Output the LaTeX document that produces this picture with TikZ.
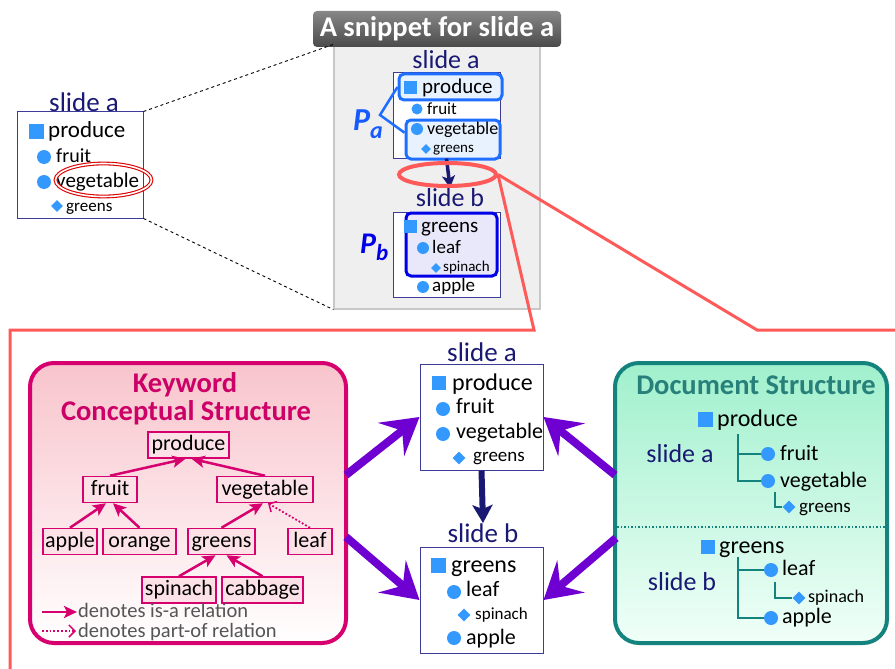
\documentclass[tikz,border=0pt]{standalone}
\usepackage{fontspec}
\setmainfont{Carlito}
\usetikzlibrary{arrows.meta,shapes.geometric}
\definecolor{navytxt}{RGB}{25,25,115}
\definecolor{navyline}{RGB}{60,60,150}
\definecolor{bul}{RGB}{51,153,255}
\definecolor{crim}{RGB}{214,0,110}
\definecolor{crimtxt}{RGB}{204,0,102}
\definecolor{purp}{RGB}{110,0,210}
\definecolor{teal2}{RGB}{20,130,125}
\definecolor{tealtxt}{RGB}{40,128,122}
\definecolor{framered}{RGB}{255,90,90}
\definecolor{ringred}{RGB}{220,0,0}
\definecolor{hlblue}{RGB}{30,110,255}
\definecolor{hlfill}{RGB}{232,242,255}
\definecolor{hlbblue}{RGB}{0,0,230}
\definecolor{hlbfill}{RGB}{232,232,250}
\definecolor{pblue}{RGB}{20,90,255}
\definecolor{pbblue}{RGB}{0,0,230}
\definecolor{panelgray}{RGB}{239,239,239}
\definecolor{panelline}{RGB}{200,200,200}
\definecolor{kwpink}{RGB}{248,196,204}
\definecolor{cpink}{RGB}{252,226,231}
\definecolor{mint}{RGB}{160,240,205}
\definecolor{mintlow}{RGB}{240,255,248}
\definecolor{leggray}{RGB}{85,85,85}
\newcommand\fs[1]{\fontsize{#1}{#1}\selectfont}
\begin{document}
\begin{tikzpicture}[x=1pt,y=-1pt,
 lbl/.style={anchor=base, inner sep=0pt, text=navytxt, font=\fs{27}},
 itm/.style={anchor=base west, inner sep=0pt, text=black},
 sqb/.style={rectangle, fill=bul, minimum size=#1, inner sep=0pt},
 cib/.style={circle, fill=bul, minimum size=#1, inner sep=0pt},
 dib/.style={diamond, fill=bul, minimum size=#1, inner sep=0pt},
 slidebox/.style={draw=navyline, line width=1pt, fill=white, inner sep=0pt},
 hla/.style={draw=hlblue, line width=3pt, fill=hlfill, rounded corners=5pt, inner sep=0pt},
 hlb/.style={draw=hlbblue, line width=3pt, fill=hlbfill, rounded corners=5pt, inner sep=0pt},
 pline/.style={draw=hlblue, line width=2.5pt},
 frame/.style={draw=framered, line width=3pt},
 titlebox/.style={rounded corners=4pt, top color={rgb,255:red,135;green,135;blue,135}, bottom color={rgb,255:red,75;green,75;blue,75}, text=white, font=\fs{28.5}\bfseries, inner sep=0pt},
 kwpanel/.style={draw=crim, line width=4pt, rounded corners=24pt, top color=kwpink, bottom color=white},
 kwtitle/.style={anchor=base, inner sep=0pt, text=crimtxt, font=\fs{28.5}\bfseries},
 cbox/.style={draw=crim, line width=1.5pt, fill=cpink, minimum height=26pt, inner sep=0pt, text height=15pt, text depth=4pt, font=\fs{22}},
 isa/.style={draw=crim, line width=2.5pt, -{Stealth[length=13pt,width=12pt,inset=3pt]}},
 partof/.style={draw=crim, line width=1.8pt, dotted, -{Straight Barb[length=6pt,width=12pt,line width=1.5pt]}},
 legtxt/.style={anchor=base west, inner sep=0pt, text=leggray, font=\fs{20.5}},
 narr/.style={draw=navytxt, line width=6pt, -{Stealth[length=18pt,width=20pt,inset=4pt]}},
 narrs/.style={draw=navytxt, line width=3.5pt, -{Stealth[length=12pt,width=13pt,inset=3pt]}},
 parr/.style={draw=purp, line width=8pt, -{Stealth[length=36pt,width=42pt,inset=14pt]}},
 docpanel/.style={draw=teal2, line width=4pt, rounded corners=24pt, top color=mint, bottom color=mintlow},
 dstitle/.style={anchor=base, inner sep=0pt, text=tealtxt, font=\fs{28.5}\bfseries},
 tree/.style={draw=teal2, line width=1.3pt},
 sep/.style={draw=teal2, line width=1.5pt, dotted}
]
\useasboundingbox (0,0) rectangle (895,669);

% ---------- left small slide ----------
\node[lbl] (llbl) at (84,111) {slide a};
\node[slidebox, minimum width=126pt, minimum height=106pt] (lbox) at (80,165) {};
\node[sqb=15pt] (lsq) at (36,131) {};
\node[itm, font=\fs{23}] (lt1) at (48,137) {produce};
\node[cib=14pt] (lc1) at (44,157) {};
\node[itm, font=\fs{20}] (lt2) at (56,162) {fruit};
\node[cib=14pt] (lc2) at (44,182) {};
\node[itm, font=\fs{21}] (lt3) at (56,187) {vegetable};
\node[dib=12pt] (ld1) at (57,206) {};
\node[itm, font=\fs{17}] (lt4) at (66,211) {greens};
\node[ellipse, draw=ringred, double, double distance=1.6pt, line width=1.1pt, minimum width=96pt, minimum height=33pt] (ring) at (103.5,180) {};

% ---------- snippet panel ----------
\node[fill=panelgray, draw=panelline, line width=1.2pt, minimum width=206pt, minimum height=264pt] (pnl) at (437,177) {};
\node[titlebox, minimum width=248pt, minimum height=36pt] (ttl) at (437,29) {A snippet for slide a};
\draw[dashed, line width=0.9pt] (lbox.north east) -- (pnl.north west);
\draw[dashed, line width=0.9pt] (lbox.south east) -- (pnl.south west);

\node[lbl, font=\fs{26}] (pal) at (446,69) {slide a};
\node[slidebox, minimum width=107pt, minimum height=85pt] (pa) at (446.5,115.5) {};
\node[hla, minimum width=103pt, minimum height=26pt] (pah1) at (450.5,87) {};
\node[hla, minimum width=94pt, minimum height=39pt] (pah2) at (453,139.5) {};
\node[sqb=13pt] (pasq) at (410.5,87.5) {};
\node[itm, font=\fs{21}] (pat1) at (422,93) {produce};
\node[cib=11pt] (pac1) at (417,109) {};
\node[itm, font=\fs{17}] (pat2) at (427,114) {fruit};
\node[cib=12pt] (pac2) at (417,129) {};
\node[itm, font=\fs{18}] (pat3) at (427,135) {vegetable};
\node[dib=10pt] (pad1) at (426,149) {};
\node[itm, font=\fs{15}] (pat4) at (433,153) {greens};
\node[anchor=base west, inner sep=0pt, text=pblue, font=\fs{32}\bfseries\itshape] (Pa) at (353,130) {P\raisebox{-9pt}{\fs{24}a}};
\coordinate (apex) at (380,115);
\draw[pline] (pah1.west) -- (apex) -- (pah2.172);

\node[lbl, font=\fs{26}] (pbl) at (450,206) {slide b};
\draw[narrs] (pa.south) -- (pbl.north);
\node[ellipse, draw=framered, line width=4pt, minimum width=97pt, minimum height=23pt, inner sep=0pt] (ell) at (447.5,174.5) {};
\node[slidebox, minimum width=107pt, minimum height=85pt] (pb) at (446.5,254.5) {};
\node[hlb, minimum width=91pt, minimum height=63pt] (pbh) at (451.5,244.5) {};
\node[sqb=13pt] (pbsq) at (410.5,226.5) {};
\node[itm, font=\fs{21}] (pbt1) at (421,232) {greens};
\node[cib=12pt] (pbc1) at (423,248) {};
\node[itm, font=\fs{19}] (pbt2) at (432,253) {leaf};
\node[dib=10pt] (pbd1) at (436,268) {};
\node[itm, font=\fs{15}] (pbt3) at (443,271) {spinach};
\node[cib=12pt] (pbc2) at (423,287) {};
\node[itm, font=\fs{19}] (pbt4) at (432,291) {apple};
\node[anchor=base west, inner sep=0pt, text=pbblue, font=\fs{30}\bfseries\itshape] (Pb) at (360,253) {P\raisebox{-7pt}{\fs{23}b}};

% ---------- red frame ----------
\coordinate (fbl) at (10,669);
\coordinate (ftl) at (10,330);
\coordinate (fm) at (534,330);
\coordinate (fr) at (757,330);
\coordinate (fre) at (895,330);
\draw[frame] (fbl) -- (ftl) -- (fm) -- (ell.east);
\draw[frame] (ell.east) -- (fr) -- (fre);

% ---------- keyword conceptual structure ----------
\node[kwpanel, minimum width=316pt, minimum height=280pt] (kw) at (188,503) {};
\node[kwtitle] (kwt1) at (185,392) {Keyword};
\node[kwtitle] (kwt2) at (186,420) {Conceptual Structure};
\node[cbox, minimum width=81pt] (produce) at (188.5,445) {produce};
\node[cbox, minimum width=54pt] (fruit) at (110,489.5) {fruit};
\node[cbox, minimum width=96pt] (vegetable) at (265,489.5) {vegetable};
\node[cbox, minimum width=54pt] (apple) at (70,541.5) {apple};
\node[cbox, minimum width=73pt] (orange) at (139.5,541.5) {orange};
\node[cbox, minimum width=67pt] (greens) at (221.5,541.5) {greens};
\node[cbox, minimum width=44pt] (leaf) at (310,541.5) {leaf};
\node[cbox, minimum width=74pt] (spinach) at (179,590) {spinach};
\node[cbox, minimum width=81pt] (cabbage) at (262.5,590) {cabbage};
\draw[isa] (fruit.north) -- ([xshift=-3pt]produce.south);
\draw[isa] (vegetable.north) -- ([xshift=3pt]produce.south);
\draw[isa] (apple.north) -- ([xshift=-4pt]fruit.south);
\draw[isa] (orange.north) -- ([xshift=3pt]fruit.south);
\draw[isa] (greens.north) -- ([xshift=-2pt]vegetable.south);
\draw[partof] (leaf.north) -- ([xshift=3pt]vegetable.south);
\draw[isa] (spinach.north) -- ([xshift=-6pt]greens.south);
\draw[isa] (cabbage.north) -- ([xshift=5pt]greens.south);
\coordinate (lg1a) at (42,612);
\coordinate (lg1b) at (77,612);
\coordinate (lg2a) at (42,631);
\coordinate (lg2b) at (76,631);
\draw[isa] (lg1a) -- (lg1b);
\draw[partof] (lg2a) -- (lg2b);
\node[legtxt] (lgt1) at (78,617) {denotes is-a relation};
\node[legtxt] (lgt2) at (78,637.5) {denotes part-of relation};

% ---------- center slides ----------
\node[lbl] (cal) at (482,361) {slide a};
\node[slidebox, minimum width=123pt, minimum height=106pt] (ca) at (481.5,417) {};
\node[sqb=14pt] (casq) at (438.5,382.5) {};
\node[itm, font=\fs{24}] (cat1) at (452,390) {produce};
\node[cib=14pt] (cac1) at (443,409) {};
\node[itm, font=\fs{22}] (cat2) at (456,413) {fruit};
\node[cib=14pt] (cac2) at (443,434) {};
\node[itm, font=\fs{22}] (cat3) at (456,438) {vegetable};
\node[dib=13pt] (cad1) at (459,458) {};
\node[itm, font=\fs{19}] (cat4) at (473,461) {greens};
\node[lbl] (cbl) at (483,542) {slide b};
\draw[narr] (ca.south) -- (cbl.north);
\node[slidebox, minimum width=123pt, minimum height=106pt] (cb) at (481.5,600) {};
\node[sqb=15pt] (cbsq) at (438.5,565.5) {};
\node[itm, font=\fs{24}] (cbt1) at (451,572) {greens};
\node[cib=14pt] (cbc1) at (454,592) {};
\node[itm, font=\fs{22}] (cbt2) at (466,596) {leaf};
\node[dib=13pt] (cbd1) at (464,615) {};
\node[itm, font=\fs{17}] (cbt3) at (475,619) {spinach};
\node[cib=14pt] (cbc2) at (454,638) {};
\node[itm, font=\fs{22}] (cbt4) at (466,644) {apple};

% ---------- document structure ----------
\node[docpanel, minimum width=272pt, minimum height=280pt] (ds) at (751,503) {};
\node[dstitle] (dst) at (756,394) {Document Structure};
\node[sqb=15pt] (dsq1) at (705,419.5) {};
\node[itm, font=\fs{24}] (dt1t) at (717,426) {produce};
\coordinate (dt1) at (738,434);
\node[cib=14pt] (dc1) at (768,454) {};
\node[itm, font=\fs{22}] (dc1t) at (780,460) {fruit};
\node[cib=14pt] (dc2) at (768,481) {};
\node[itm, font=\fs{22}] (dc2t) at (780,487) {vegetable};
\draw[tree] (dt1) |- (dc1.west);
\draw[tree] (dt1) |- (dc2.west);
\coordinate (dt2) at (775,492);
\node[dib=13pt] (dd1) at (789,507) {};
\draw[tree] (dt2) |- (dd1.west);
\node[itm, font=\fs{19}] (dd1t) at (799,512) {greens};
\node[lbl, font=\fs{26}] (dsla) at (680,462) {slide a};
\coordinate (sep1) at (617,527);
\coordinate (sep2) at (886,527);
\draw[sep] (sep1) -- (sep2);
\node[sqb=14pt] (dsq2) at (707.5,546.5) {};
\node[itm, font=\fs{24}] (dt3t) at (719,553) {greens};
\coordinate (dt3) at (738,557);
\node[cib=14pt] (dc3) at (771,570) {};
\node[itm, font=\fs{22}] (dc3t) at (782,575) {leaf};
\node[cib=14pt] (dc4) at (771,618) {};
\node[itm, font=\fs{22}] (dc4t) at (782,623) {apple};
\draw[tree] (dt3) |- (dc3.west);
\draw[tree] (dt3) |- (dc4.west);
\coordinate (dt4) at (775,582);
\node[dib=13pt] (dd2) at (799,598) {};
\draw[tree] (dt4) |- (dd2.west);
\node[itm, font=\fs{18}] (dd2t) at (808,602) {spinach};
\node[lbl, font=\fs{26}] (dslb) at (682,590) {slide b};

% ---------- purple arrows ----------
\coordinate (kwa) at (346,475);
\coordinate (kwb) at (346,537);
\coordinate (dsa) at (615,475);
\coordinate (dsb) at (616,538);
\draw[parr] (kwa) -- (ca.west);
\draw[parr] (kwb) -- (cb.west);
\draw[parr] (dsa) -- (ca.east);
\draw[parr] (dsb) -- (cb.east);
\end{tikzpicture}
\end{document}
